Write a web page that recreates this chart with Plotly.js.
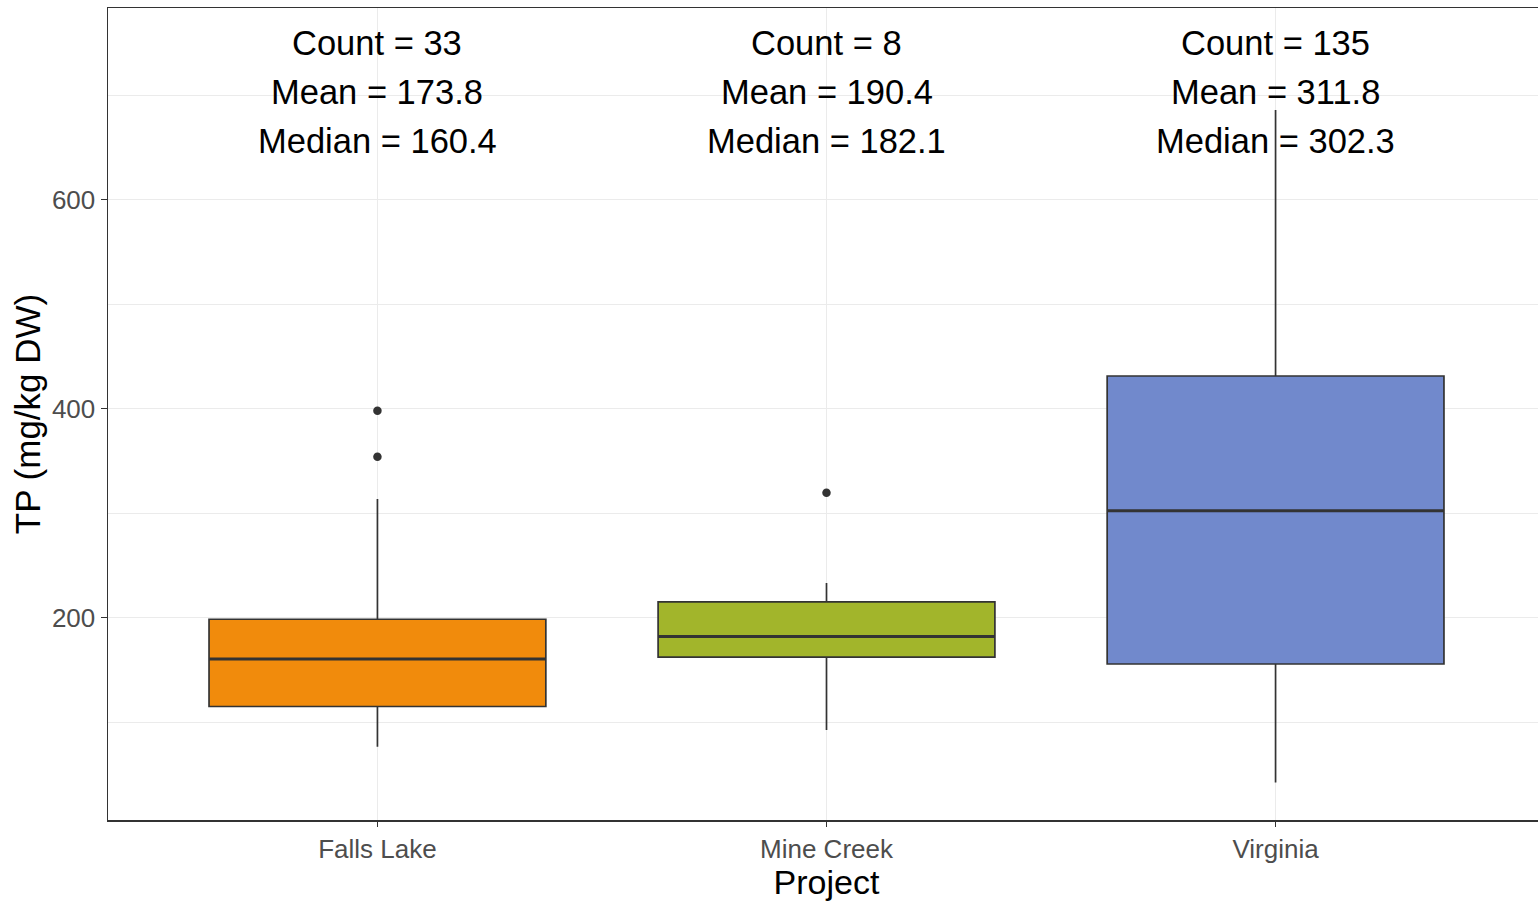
<!DOCTYPE html>
<html>
<head>
<meta charset="utf-8">
<script src="https://cdn.plot.ly/plotly-3.0.1.min.js"></script>
<style>
  html, body { margin: 0; padding: 0; background: #ffffff; overflow: hidden; }
  #chart { width: 1545px; height: 901px; }
</style>
</head>
<body>
<div id="chart"></div>
<script>
// ---- Data ----
const categories = ['Falls Lake', 'Mine Creek', 'Virginia'];
const counts = [33, 8, 135];
const means = [173.8, 190.4, 311.8];
const medians = [160.4, 182.1, 302.3];
const q1 = [115.0, 162.2, 155.7];
const q3 = [198.5, 215.2, 431.3];
const lowerWhisker = [76.6, 92.5, 42.2];
const upperWhisker = [313.6, 233.2, 685.8];
const outlierCategory = ['Falls Lake', 'Falls Lake', 'Mine Creek'];
const outlierValue = [398.0, 354.0, 319.5];
const yTickVals = [200, 400, 600];
const yTickText = ['200', '400', '600'];

// ---- Styling ----
const fillColors = ['#F18B0C', '#A2B52B', '#7189CC'];
const boxWidth = 0.75;
const dark = '#333333';
const grid = '#ebebeb';
const fontFamily = '"Liberation Sans", Arial, sans-serif';

const traces = categories.map((c, i) => ({
  type: 'box',
  x: [c],
  q1: [q1[i]],
  median: [medians[i]],
  q3: [q3[i]],
  lowerfence: [lowerWhisker[i]],
  upperfence: [upperWhisker[i]],
  width: boxWidth,
  whiskerwidth: 0,
  fillcolor: fillColors[i],
  line: { color: dark, width: 1.7 },
  boxpoints: false,
  hoverinfo: 'skip',
  showlegend: false
}));

traces.push({
  type: 'scatter',
  mode: 'markers',
  x: outlierCategory,
  y: outlierValue,
  marker: { color: dark, size: 8.5 },
  hoverinfo: 'skip',
  showlegend: false
});

// thicker median segments, derived from the data
const shapes = categories.map((c, i) => ({
  type: 'line',
  xref: 'x', yref: 'y',
  x0: i - boxWidth / 2, x1: i + boxWidth / 2,
  y0: medians[i], y1: medians[i],
  line: { color: dark, width: 3 },
  layer: 'above'
}));

const annotations = [];
categories.forEach((c, i) => {
  const lines = [
    ['Count = ' + counts[i], 750],
    ['Mean = ' + means[i].toFixed(1), 703],
    ['Median = ' + medians[i].toFixed(1), 656]
  ];
  lines.forEach(([t, yy]) => {
    annotations.push({
      x: c, y: yy, xref: 'x', yref: 'y',
      text: t, showarrow: false,
      xanchor: 'center', yanchor: 'middle',
      font: { family: fontFamily, size: 34.5, color: '#000000' }
    });
  });
});

const layout = {
  width: 1545,
  height: 901,
  margin: { l: 108, r: 0, t: 8, b: 81 },
  paper_bgcolor: '#ffffff',
  plot_bgcolor: '#ffffff',
  font: { family: fontFamily },
  boxmode: 'overlay',
  showlegend: false,
  shapes: shapes,
  annotations: annotations,
  xaxis: {
    type: 'category',
    categoryorder: 'array',
    categoryarray: categories,
    range: [-0.6, 2.6],
    showgrid: true,
    gridcolor: grid,
    gridwidth: 1.5,
    zeroline: false,
    showline: true,
    linecolor: dark,
    linewidth: 1.5,
    mirror: true,
    ticks: 'outside',
    ticklen: 5,
    tickwidth: 1.5,
    tickcolor: dark,
    tickfont: { family: fontFamily, size: 26, color: '#4d4d4d' },
    title: { text: 'Project', font: { family: fontFamily, size: 34, color: '#000000' }, standoff: 2 },
    fixedrange: true
  },
  yaxis: {
    range: [6.4, 783.5],
    tickmode: 'array',
    tickvals: yTickVals,
    ticktext: yTickText,
    showgrid: true,
    gridcolor: grid,
    gridwidth: 1.5,
    minor: { tickmode: 'linear', tick0: 0, dtick: 100, showgrid: true, gridcolor: grid, gridwidth: 1.2 },
    zeroline: false,
    showline: true,
    linecolor: dark,
    linewidth: 1.5,
    mirror: true,
    ticks: 'outside',
    ticklen: 6,
    tickwidth: 1.5,
    tickcolor: dark,
    tickfont: { family: fontFamily, size: 26, color: '#4d4d4d' },
    title: { text: 'TP (mg/kg DW)', font: { family: fontFamily, size: 35, color: '#000000' }, standoff: 0 },
    fixedrange: true
  }
};

Plotly.newPlot('chart', traces, layout, { displayModeBar: false, staticPlot: true });
</script>
</body>
</html>
